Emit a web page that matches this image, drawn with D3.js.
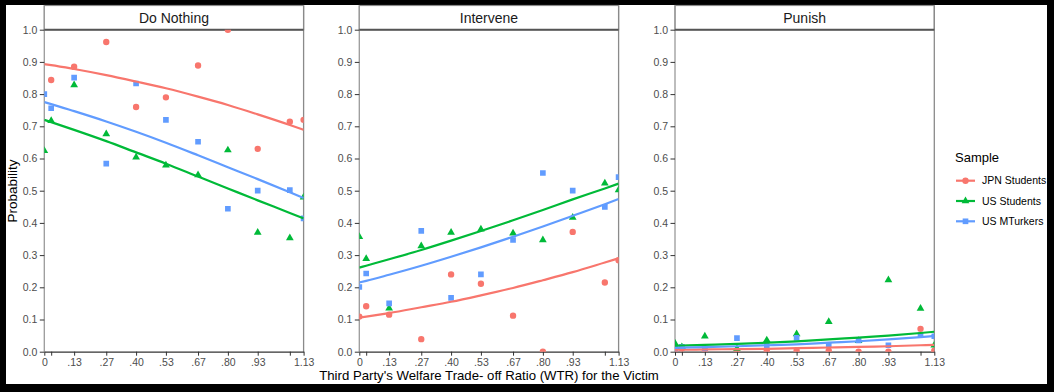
<!DOCTYPE html>
<html><head><meta charset="utf-8">
<script src="https://cdn.jsdelivr.net/npm/d3@7"></script>
<style>
html,body{margin:0;padding:0;background:#000;}
svg{display:block;font-family:"Liberation Sans",Arial,sans-serif;}
</style></head>
<body>
<svg id="chart" width="1054" height="392"></svg>
<script>
// ---------- data ----------
const xVals = [0, 0.03, 0.13, 0.27, 0.40, 0.53, 0.67, 0.80, 0.93, 1.07, 1.13];
const xTickLabels = ["0", "", ".13", ".27", ".40", ".53", ".67", ".80", ".93", "", "1.13"];
const yTicks = [0, 0.1, 0.2, 0.3, 0.4, 0.5, 0.6, 0.7, 0.8, 0.9, 1.0];
const panelNames = ["Do Nothing", "Intervene", "Punish"];
const samples = ["JPN Students", "US Students", "US MTurkers"];
const colors = ["#F8766D", "#00BA38", "#619CFF"];
const shapes = ["circle", "triangle", "square"];

// observed proportions
const doNothingJPN = [null, 0.844, 0.885, 0.962, 0.760, 0.790, 0.889, 1.000, 0.630, 0.714, 0.720];
const doNothingUS  = [0.624, 0.717, 0.828, 0.676, 0.604, 0.579, 0.549, 0.626, 0.370, 0.353, 0.480];
const doNothingMT  = [0.800, 0.756, 0.851, 0.584, 0.833, 0.720, 0.652, 0.444, 0.500, 0.502, 0.414];
const interveneJPN = [0.109, 0.141, 0.115, 0.039, 0.240, 0.211, 0.112, 0.000, 0.372, 0.215, 0.284];
const interveneUS  = [0.357, 0.289, 0.135, 0.328, 0.370, 0.380, 0.368, 0.347, 0.417, 0.523, 0.502];
const interveneMT  = [0.201, 0.243, 0.150, 0.375, 0.167, 0.240, 0.347, 0.555, 0.500, 0.450, 0.542];
const punishJPN    = [0.005, 0.010, 0.003, 0.003, 0.003, 0.003, 0.003, 0.000, 0.000, 0.071, 0.003];
const punishUS     = [0.026, 0.015, 0.048, 0.010, 0.036, 0.055, 0.093, 0.034, 0.223, 0.134, 0.020];
const punishMT     = [0.010, 0.015, 0.010, 0.042, 0.020, 0.043, 0.020, 0.035, 0.020, 0.052, 0.048];

// fitted curves (at each x)
const fitDoNothingJPN = [0.893, 0.890, 0.878, 0.859, 0.839, 0.818, 0.792, 0.766, 0.737, 0.704, 0.689];
const fitDoNothingUS  = [0.720, 0.713, 0.689, 0.654, 0.619, 0.584, 0.544, 0.507, 0.470, 0.431, 0.414];
const fitDoNothingMT  = [0.775, 0.769, 0.747, 0.715, 0.683, 0.649, 0.610, 0.573, 0.536, 0.495, 0.477];
const fitInterveneJPN = [0.106, 0.109, 0.120, 0.138, 0.155, 0.175, 0.198, 0.222, 0.247, 0.277, 0.290];
const fitInterveneUS  = [0.261, 0.267, 0.287, 0.316, 0.345, 0.375, 0.408, 0.440, 0.473, 0.507, 0.522];
const fitInterveneMT  = [0.215, 0.220, 0.239, 0.267, 0.295, 0.324, 0.357, 0.389, 0.422, 0.458, 0.474];
const fitPunishJPN    = [0.006, 0.006, 0.007, 0.008, 0.009, 0.011, 0.013, 0.015, 0.017, 0.020, 0.021];
const fitPunishUS     = [0.018, 0.019, 0.021, 0.024, 0.028, 0.032, 0.038, 0.044, 0.050, 0.058, 0.062];
const fitPunishMT     = [0.012, 0.0125, 0.014, 0.017, 0.020, 0.023, 0.028, 0.0325, 0.038, 0.0455, 0.049];

const points = [
  [doNothingJPN, doNothingUS, doNothingMT],
  [interveneJPN, interveneUS, interveneMT],
  [punishJPN, punishUS, punishMT]
];
const fits = [
  [fitDoNothingJPN, fitDoNothingUS, fitDoNothingMT],
  [fitInterveneJPN, fitInterveneUS, fitInterveneMT],
  [fitPunishJPN, fitPunishUS, fitPunishMT]
];

// ---------- layout ----------
const svg = d3.select("#chart");
svg.append("rect").attr("x", 6).attr("y", 5).attr("width", 1041).attr("height", 379).attr("fill", "#fff");

const panelLeft = [44.3, 359.3, 675];
const panelW = 259.3;
const plotTop = 29.7, plotBottom = 351.7, stripTop = 5.5;

const yScale = d3.scaleLinear().domain([0, 1]).range([plotBottom, plotTop]);
const symbolFor = {
  circle: d3.symbol().type(d3.symbolCircle).size(32),
  triangle: d3.symbol().type(d3.symbolTriangle).size(26),
  square: d3.symbol().type(d3.symbolSquare).size(32)
};

panelNames.forEach((name, p) => {
  const x0 = panelLeft[p];
  const xScale = d3.scaleLinear().domain([0, 1.13]).range([x0, x0 + panelW]);
  const g = svg.append("g");

  const clipId = "clip" + p;
  svg.append("clipPath").attr("id", clipId).append("rect")
    .attr("x", x0).attr("y", plotTop).attr("width", panelW).attr("height", plotBottom - plotTop);

  // strip
  g.append("rect").attr("x", x0).attr("y", stripTop).attr("width", panelW).attr("height", plotTop - stripTop)
    .attr("fill", "#fff").attr("stroke", "#8a8a8a").attr("stroke-width", 1.2);
  g.append("text").attr("x", x0 + panelW / 2).attr("y", 23.3).attr("text-anchor", "middle")
    .attr("font-size", 14).attr("fill", "#1a1a1a").text(name);

  // panel sides
  g.append("line").attr("x1", x0).attr("x2", x0).attr("y1", stripTop).attr("y2", plotBottom)
    .attr("stroke", "#9a9a9a").attr("stroke-width", 1.3);
  g.append("line").attr("x1", x0 + panelW).attr("x2", x0 + panelW).attr("y1", stripTop).attr("y2", plotBottom)
    .attr("stroke", "#8a8a8a").attr("stroke-width", 1.3);

  // y axis
  const ya = g.append("g").attr("transform", `translate(${x0},0)`)
    .call(d3.axisLeft(yScale).tickValues(yTicks).tickFormat(d3.format(".1f")).tickSize(4.5).tickPadding(2.5));
  ya.select(".domain").remove();
  ya.selectAll(".tick line").attr("stroke", "#333").attr("stroke-width", 1);
  ya.selectAll(".tick text").attr("font-size", 10.5).attr("fill", "#4D4D4D")
    .attr("font-family", "Liberation Sans, Arial, sans-serif");

  // x axis
  const xa = g.append("g").attr("transform", `translate(0,${plotBottom})`)
    .call(d3.axisBottom(xScale).tickValues(xVals).tickFormat((d, i) => xTickLabels[i]).tickSize(4).tickPadding(2.5).tickSizeOuter(0));
  xa.select(".domain").attr("stroke", "#333").attr("stroke-width", 1.3);
  xa.selectAll(".tick line").attr("stroke", "#333").attr("stroke-width", 1);
  xa.selectAll(".tick text").attr("font-size", 10.5).attr("fill", "#4D4D4D")
    .attr("font-family", "Liberation Sans, Arial, sans-serif");

  // line at 1.0
  g.append("line").attr("x1", x0).attr("x2", x0 + panelW).attr("y1", plotTop).attr("y2", plotTop)
    .attr("stroke", "#555").attr("stroke-width", 2);

  const plot = g.append("g").attr("clip-path", `url(#${clipId})`);

  samples.forEach((s, si) => {
    points[p][si].forEach((v, i) => {
      if (v === null) return;
      plot.append("path").attr("d", symbolFor[shapes[si]]())
        .attr("transform", `translate(${xScale(xVals[i])},${yScale(v)})`)
        .attr("fill", colors[si]);
    });
  });
  const line = d3.line().x((d, i) => xScale(xVals[i])).y(d => yScale(d)).curve(d3.curveMonotoneX);
  samples.forEach((s, si) => {
    plot.append("path").attr("d", line(fits[p][si])).attr("fill", "none")
      .attr("stroke", colors[si]).attr("stroke-width", 2.2);
  });
});

// axis titles
svg.append("text").attr("x", 489).attr("y", 380).attr("text-anchor", "middle")
  .attr("font-size", 13.2).attr("fill", "#000").text("Third Party's Welfare Trade- off Ratio (WTR) for the Victim");
svg.append("text").attr("transform", "translate(17,191) rotate(-90)").attr("text-anchor", "middle")
  .attr("font-size", 13.5).attr("fill", "#000").text("Probability");

// legend
const lg = svg.append("g");
lg.append("text").attr("x", 955).attr("y", 162).attr("font-size", 13).attr("fill", "#000").text("Sample");
samples.forEach((s, si) => {
  const cy = 180.7 + si * 20.3;
  lg.append("line").attr("x1", 956).attr("x2", 975).attr("y1", cy).attr("y2", cy)
    .attr("stroke", colors[si]).attr("stroke-width", 2.2);
  lg.append("path").attr("d", symbolFor[shapes[si]]()).attr("transform", `translate(965.5,${cy})`).attr("fill", colors[si]);
  lg.append("text").attr("x", 982).attr("y", cy + 3.7).attr("font-size", 10.5).attr("fill", "#000").text(s);
});
</script>
</body></html>
